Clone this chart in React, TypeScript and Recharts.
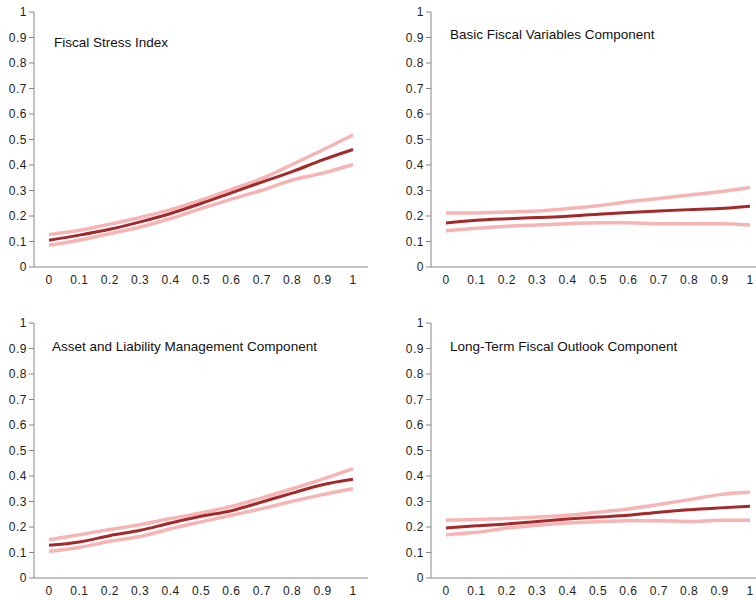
import { LineChart, Line, XAxis, YAxis } from 'recharts';

const xLabels = ['0', '0.1', '0.2', '0.3', '0.4', '0.5', '0.6', '0.7', '0.8', '0.9', '1'];
const yTicks = [0, 0.1, 0.2, 0.3, 0.4, 0.5, 0.6, 0.7, 0.8, 0.9, 1];
const boundaryTicks = [0, 1, 2, 3, 4, 5, 6, 7, 8, 9, 10, 11];

const fsiMean = [0.105, 0.125, 0.148, 0.177, 0.21, 0.249, 0.291, 0.333, 0.374, 0.42, 0.461];
const fsiUpper = [0.127, 0.144, 0.168, 0.194, 0.225, 0.262, 0.304, 0.347, 0.402, 0.459, 0.518];
const fsiLower = [0.085, 0.105, 0.131, 0.157, 0.19, 0.229, 0.266, 0.301, 0.341, 0.368, 0.402];

const bfvMean = [0.173, 0.183, 0.189, 0.194, 0.199, 0.207, 0.214, 0.22, 0.225, 0.229, 0.238];
const bfvUpper = [0.212, 0.212, 0.216, 0.22, 0.229, 0.24, 0.256, 0.269, 0.282, 0.295, 0.312];
const bfvLower = [0.142, 0.152, 0.16, 0.165, 0.17, 0.174, 0.174, 0.17, 0.17, 0.17, 0.165];

const almMean = [0.128, 0.141, 0.166, 0.187, 0.216, 0.242, 0.264, 0.298, 0.333, 0.366, 0.387];
const almUpper = [0.15, 0.17, 0.19, 0.209, 0.233, 0.255, 0.281, 0.314, 0.35, 0.388, 0.429];
const almLower = [0.105, 0.12, 0.144, 0.163, 0.193, 0.22, 0.246, 0.272, 0.301, 0.327, 0.35];

const ltfMean = [0.196, 0.205, 0.212, 0.222, 0.231, 0.239, 0.246, 0.258, 0.268, 0.275, 0.281];
const ltfUpper = [0.226, 0.229, 0.233, 0.239, 0.246, 0.258, 0.271, 0.288, 0.307, 0.327, 0.336];
const ltfLower = [0.17, 0.179, 0.196, 0.207, 0.216, 0.221, 0.225, 0.225, 0.222, 0.226, 0.226];

const DARK = '#a3292b';
const LIGHT = '#f7b4b4';
const AXIS = '#868686';
const BORDER = '#bdbdbd';
const FONT = '"Liberation Sans", Arial, sans-serif';
const tickStyle = { fontSize: 12, fill: '#222', fontFamily: FONT, letterSpacing: 0.5 };

type PanelProps = {
    title: string;
    left: number;
    top: number;
    width: number;
    margin: { top: number; right: number; left: number; bottom: number };
    titleX: number;
    titleY: number;
    mean: number[];
    upper: number[];
    lower: number[];
};

const Panel = ({ title, left, top, width, margin, titleX, titleY, mean, upper, lower }: PanelProps) => {
    const data = xLabels.map((x, i) => ({ x, mean: mean[i], upper: upper[i], lower: lower[i] }));
    return (
        <div style={{ position: 'absolute', left, top, width, height: 290 }}>
            <LineChart width={width} height={290} data={data} margin={margin}>
                {/* tick marks between categories, like Excel */}
                <XAxis
                    xAxisId="ticks"
                    type="number"
                    domain={[0, 11]}
                    ticks={boundaryTicks}
                    height={0}
                    tick={false}
                    axisLine={false}
                    tickSize={5}
                    tickLine={{ stroke: AXIS }}
                />
                <XAxis
                    dataKey="x"
                    height={20}
                    padding={{ left: 15, right: 15 }}
                    tickLine={false}
                    tickSize={5}
                    tickMargin={3}
                    interval={0}
                    axisLine={{ stroke: AXIS }}
                    tick={tickStyle}
                />
                <XAxis xAxisId="top" orientation="top" height={0} tick={false} tickLine={false} axisLine={{ stroke: BORDER }} />
                <YAxis
                    domain={[0, 1]}
                    ticks={yTicks}
                    width={28}
                    tickSize={5}
                    interval={0}
                    axisLine={{ stroke: AXIS }}
                    tickLine={{ stroke: AXIS }}
                    tick={tickStyle}
                />
                <YAxis yAxisId="right" orientation="right" width={0} tick={false} tickLine={false} axisLine={{ stroke: BORDER }} />
                <Line type="monotone" dataKey="upper" stroke={LIGHT} strokeWidth={3.5} dot={false} isAnimationActive={false} />
                <Line type="monotone" dataKey="lower" stroke={LIGHT} strokeWidth={3.5} dot={false} isAnimationActive={false} />
                <Line type="monotone" dataKey="mean" stroke={DARK} strokeWidth={3} dot={false} isAnimationActive={false} />
            </LineChart>
            <div
                style={{
                    position: 'absolute',
                    left: titleX,
                    top: titleY,
                    fontFamily: FONT,
                    fontSize: 13.5,
                    color: '#111',
                    whiteSpace: 'nowrap',
                    lineHeight: '16px',
                }}
            >
                {title}
            </div>
        </div>
    );
};

export default function App() {
    return (
        <div style={{ position: 'absolute', left: 0, top: 0, width: 756, height: 600, overflow: 'hidden', background: '#fff' }}>
            <Panel
                title="Fiscal Stress Index"
                left={0}
                top={0}
                width={378}
                margin={{ top: 12, right: 10, left: 6, bottom: 3 }}
                titleX={54}
                titleY={35}
                mean={fsiMean}
                upper={fsiUpper}
                lower={fsiLower}
            />
            <Panel
                title="Basic Fiscal Variables Component"
                left={378}
                top={0}
                width={400}
                margin={{ top: 12, right: 13, left: 25, bottom: 3 }}
                titleX={72}
                titleY={27}
                mean={bfvMean}
                upper={bfvUpper}
                lower={bfvLower}
            />
            <Panel
                title="Asset and Liability Management Component"
                left={0}
                top={310}
                width={378}
                margin={{ top: 13, right: 10, left: 6, bottom: 2 }}
                titleX={52}
                titleY={29}
                mean={almMean}
                upper={almUpper}
                lower={almLower}
            />
            <Panel
                title="Long-Term Fiscal Outlook Component"
                left={378}
                top={310}
                width={400}
                margin={{ top: 13, right: 13, left: 25, bottom: 2 }}
                titleX={72}
                titleY={29}
                mean={ltfMean}
                upper={ltfUpper}
                lower={ltfLower}
            />
        </div>
    );
}
